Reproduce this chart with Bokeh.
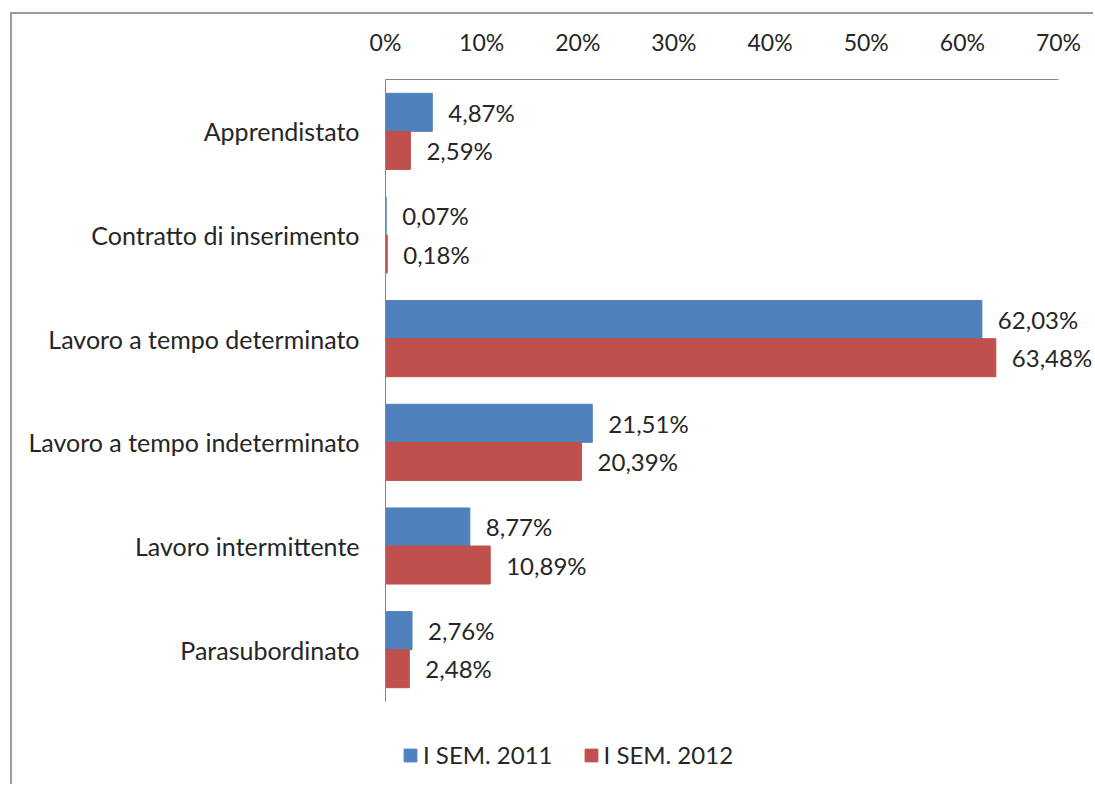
from bokeh.plotting import figure
from bokeh.models import (ColumnDataSource, Range1d, FixedTicker,
                          PrintfTickFormatter, Legend, LegendItem)
from bokeh.transform import dodge
from bokeh.core.properties import value
from bokeh.embed import file_html
from bokeh.resources import INLINE

categories = ["Apprendistato", "Contratto di inserimento", "Lavoro a tempo determinato",
              "Lavoro a tempo indeterminato", "Lavoro intermittente", "Parasubordinato"]
sem_2011 = [4.87, 0.07, 62.03, 21.51, 8.77, 2.76]
sem_2012 = [2.59, 0.18, 63.48, 20.39, 10.89, 2.48]
series_names = ["I SEM. 2011", "I SEM. 2012"]
x_ticks = [0, 10, 20, 30, 40, 50, 60, 70]

FONT = "Lato"
TXT = "#262626"
BLUE = "#4F81BD"
RED = "#C0504D"
AXIS = "#868686"


def fmt(v):
    return f"{v:.2f}".replace(".", ",") + "%"


idx = list(range(len(categories)))
src = ColumnDataSource(dict(
    idx=idx,
    a=sem_2011,
    b=sem_2012,
    la=[fmt(v) for v in sem_2011],
    lb=[fmt(v) for v in sem_2012],
))

# layout (pixels)
FIG_W, FIG_H = 1083, 772
LEFT, TOP = 373, 65
FRAME_W = FIG_W - LEFT
FRAME_H = FIG_H - TOP
AXIS_PX = 673            # pixels from first to last x tick
CAT_PX = 622 / len(categories)  # pixels per category band

x_end = x_ticks[-1] * FRAME_W / AXIS_PX
y_top = -0.5
y_bottom = y_top + FRAME_H / CAT_PX

p = figure(width=FIG_W, height=FIG_H, output_backend="svg", toolbar_location=None,
           y_range=Range1d(y_bottom, y_top),
           x_range=Range1d(0, x_end), x_axis_location="above",
           min_border_left=LEFT, min_border_right=0, min_border_top=TOP, min_border_bottom=0)
p.styles = {"margin-left": "10px", "margin-top": "12px",
            "border-left": "2px solid #9a9a9a", "border-top": "2px solid #9a9a9a"}

bh = 0.367
ra = p.hbar(y=dodge("idx", -bh / 2), right="a", height=bh, left=0,
            source=src, fill_color=BLUE, line_color=BLUE)
rb = p.hbar(y=dodge("idx", bh / 2), right="b", height=bh, left=0,
            source=src, fill_color=RED, line_color=RED)

for col, lab, off in (("a", "la", -bh / 2), ("b", "lb", bh / 2)):
    p.text(x=col, y=dodge("idx", off), text=lab, source=src,
           x_offset=16, text_baseline="middle", text_align="left",
           text_font=value(FONT), text_font_size="24px", text_color=TXT)

p.xgrid.visible = False
p.ygrid.visible = False
p.outline_line_color = None

xa = p.xaxis[0]
xa.ticker = FixedTicker(ticks=x_ticks)
xa.bounds = (x_ticks[0], x_ticks[-1])
xa.formatter = PrintfTickFormatter(format="%d%%")
xa.major_tick_line_color = None
xa.minor_tick_line_color = None
xa.major_tick_out = 0
xa.major_tick_in = 0
xa.axis_line_color = AXIS
xa.major_label_text_font = FONT
xa.major_label_text_font_size = "23px"
xa.major_label_text_color = TXT
xa.major_label_standoff = 24

ya = p.yaxis[0]
ya.ticker = FixedTicker(ticks=idx)
ya.major_label_overrides = {i: c for i, c in zip(idx, categories)}
ya.bounds = (y_top, y_top + len(categories))
ya.major_tick_line_color = None
ya.minor_tick_line_color = None
ya.major_tick_out = 0
ya.major_tick_in = 0
ya.axis_line_color = AXIS
ya.major_label_text_font = FONT
ya.major_label_text_font_size = "25px"
ya.major_label_text_color = TXT
ya.major_label_standoff = 26

legend = Legend(items=[LegendItem(label=series_names[0], renderers=[ra]),
                       LegendItem(label=series_names[1], renderers=[rb])],
                orientation="horizontal", location=(17, 17),
                glyph_width=16, glyph_height=16, label_standoff=5, spacing=30,
                padding=0, margin=0, border_line_color=None, background_fill_alpha=0,
                label_text_font=FONT, label_text_font_size="24px", label_text_color=TXT)
p.add_layout(legend, "center")

open("out.html", "w").write(file_html(p, INLINE))
